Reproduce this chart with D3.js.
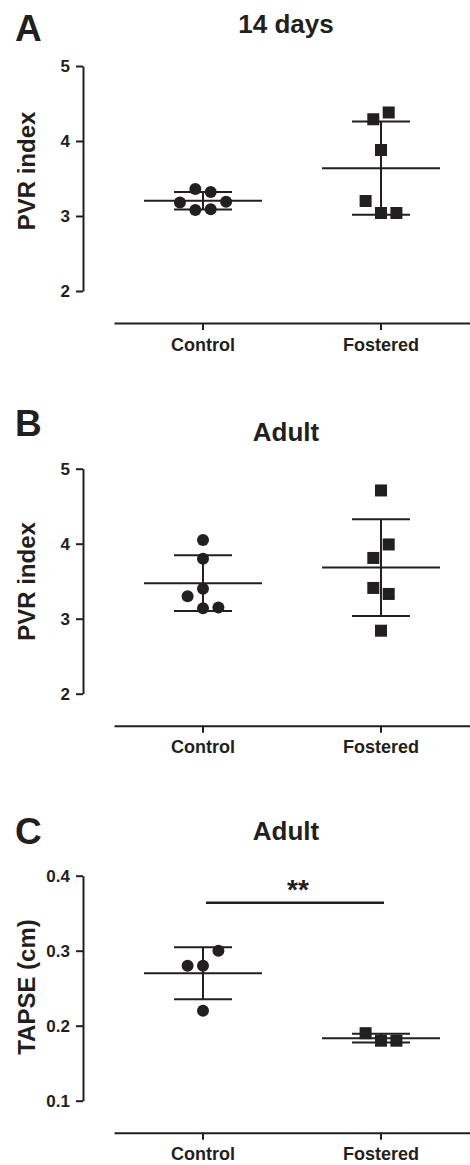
<!DOCTYPE html>
<html>
<head>
<meta charset="utf-8">
<script src="https://cdn.jsdelivr.net/npm/d3@7"></script>
<style>
  html, body { margin: 0; padding: 0; background: #fff; }
  svg { display: block; font-family: "Liberation Sans", Arial, sans-serif; }
</style>
</head>
<body>
<svg id="chart" width="470" height="1165"></svg>
<script>
// ---- data ----
const categories = ["Control", "Fostered"];

// Panel A: PVR index at 14 days
const aControl = [3.36, 3.32, 3.19, 3.18, 3.09, 3.08];
const aControlCol = [-1, 1, 3, -3, 1, -1];
const aFostered = [4.38, 4.29, 3.88, 3.20, 3.04, 3.04];
const aFosteredCol = [1, -1, 0, -2, 0, 2];

// Panel B: PVR index in adults
const bControl = [4.05, 3.80, 3.40, 3.30, 3.15, 3.14];
const bControlCol = [0, 0, 0, -2, 2, 0];
const bFostered = [4.71, 3.99, 3.81, 3.41, 3.33, 2.84];
const bFosteredCol = [0, 1, -1, -1, 1, 0];

// Panel C: TAPSE in adults
const cControl = [0.30, 0.28, 0.28, 0.22];
const cControlCol = [2, -2, 0, 0];
const cFostered = [0.19, 0.18, 0.18];
const cFosteredCol = [-2, 0, 2];

const pvrTicks = [2, 3, 4, 5];
const tapseTicks = [0.1, 0.2, 0.3, 0.4];

const panelLetters = ["A", "B", "C"];
const panelTitles = ["14 days", "Adult", "Adult"];
const yLabels = ["PVR index", "PVR index", "TAPSE (cm)"];
const significance = ["", "", "**"];
const sigLevel = [null, null, 0.364];

// ---- layout ----
const INK = "#231f20";
const svg = d3.select("#chart");
const axisX = 83;
const plotH = 225;
const panelTop = [66, 468.7, 875.7];
const titleBase = [33, 440.7, 840];
const letterBase = [40.5, 436, 844];
const yLabelMid = [171, 581.5, 987];
const colUnit = 7.7;

const x = d3.scaleBand().domain(categories).range([114, 470]);
const jitter = d3.scaleLinear().domain([-1, 1]).range([-colUnit, colUnit]);

const panels = [
  { groups: [[aControl, aControlCol, "circle"], [aFostered, aFosteredCol, "square"]], ticks: pvrTicks, fmt: d3.format("d") },
  { groups: [[bControl, bControlCol, "circle"], [bFostered, bFosteredCol, "square"]], ticks: pvrTicks, fmt: d3.format("d") },
  { groups: [[cControl, cControlCol, "circle"], [cFostered, cFosteredCol, "square"]], ticks: tapseTicks, fmt: d3.format(".1f") }
];

panels.forEach((p, i) => {
  const top = panelTop[i];
  const y = d3.scaleLinear()
    .domain(d3.extent(p.ticks))
    .range([top + plotH, top]);
  const g = svg.append("g");

  // panel letter and title
  g.append("text").attr("x", 15).attr("y", letterBase[i])
    .attr("font-size", 37).attr("font-weight", "bold").attr("fill", INK)
    .text(panelLetters[i]);
  g.append("text").attr("x", 286).attr("y", titleBase[i])
    .attr("text-anchor", "middle")
    .attr("font-size", 26).attr("font-weight", "bold").attr("fill", INK)
    .text(panelTitles[i]);

  // y axis
  const yAxis = g.append("g")
    .attr("transform", `translate(${axisX},0)`)
    .call(d3.axisLeft(y).tickValues(p.ticks).tickFormat(p.fmt).tickSize(7).tickPadding(6).tickSizeOuter(0));
  yAxis.select(".domain").attr("stroke", INK).attr("stroke-width", 2);
  yAxis.selectAll(".tick line").attr("stroke", INK).attr("stroke-width", 2);
  yAxis.selectAll(".tick text")
    .attr("font-size", 17).attr("font-weight", "bold").attr("fill", INK)
    .attr("font-family", "Liberation Sans, Arial, sans-serif");

  g.append("text")
    .attr("transform", `translate(35,${yLabelMid[i]}) rotate(-90)`)
    .attr("text-anchor", "middle")
    .attr("font-size", 24).attr("font-weight", "bold").attr("fill", INK)
    .text(yLabels[i]);

  // x axis
  const xAxisY = top + plotH + 32;
  const xAxis = g.append("g")
    .attr("transform", `translate(0,${xAxisY})`)
    .call(d3.axisBottom(x).tickSize(7).tickPadding(8).tickSizeOuter(0));
  xAxis.select(".domain").attr("stroke", INK).attr("stroke-width", 2);
  xAxis.selectAll(".tick line").attr("stroke", INK).attr("stroke-width", 2);
  xAxis.selectAll(".tick text")
    .attr("font-size", 18).attr("font-weight", "bold").attr("fill", INK)
    .attr("font-family", "Liberation Sans, Arial, sans-serif");

  // mean ± SD and individual points
  p.groups.forEach(([vals, cols, shape], k) => {
    const cx = x(categories[k]) + x.bandwidth() / 2;
    const m = d3.mean(vals), sd = d3.deviation(vals);
    const eb = g.append("g").attr("stroke", INK).attr("stroke-width", 2);
    eb.append("line").attr("x1", cx - 59).attr("x2", cx + 59).attr("y1", y(m)).attr("y2", y(m));
    eb.append("line").attr("x1", cx).attr("x2", cx).attr("y1", y(m - sd)).attr("y2", y(m + sd));
    eb.append("line").attr("x1", cx - 29).attr("x2", cx + 29).attr("y1", y(m + sd)).attr("y2", y(m + sd));
    eb.append("line").attr("x1", cx - 29).attr("x2", cx + 29).attr("y1", y(m - sd)).attr("y2", y(m - sd));

    const pts = vals.map((v, j) => ({ v, c: cols[j] }));
    if (shape === "circle") {
      g.selectAll(null).data(pts).join("circle")
        .attr("cx", d => cx + jitter(d.c)).attr("cy", d => y(d.v))
        .attr("r", 6).attr("fill", INK);
    } else {
      g.selectAll(null).data(pts).join("rect")
        .attr("x", d => cx + jitter(d.c) - 6).attr("y", d => y(d.v) - 6)
        .attr("width", 12).attr("height", 12).attr("fill", INK);
    }
  });

  // significance bracket
  if (sigLevel[i] !== null) {
    const x1 = x(categories[0]) + x.bandwidth() / 2;
    const x2 = x(categories[1]) + x.bandwidth() / 2;
    const sy = y(sigLevel[i]);
    g.append("line").attr("x1", x1 + 3).attr("x2", x2 + 3).attr("y1", sy).attr("y2", sy)
      .attr("stroke", INK).attr("stroke-width", 2.5);
    g.append("text").attr("x", (x1 + x2) / 2 + 6).attr("y", sy - 4)
      .attr("text-anchor", "middle")
      .attr("font-size", 28).attr("font-weight", "bold").attr("fill", INK)
      .text(significance[i]);
  }
});
</script>
</body>
</html>
